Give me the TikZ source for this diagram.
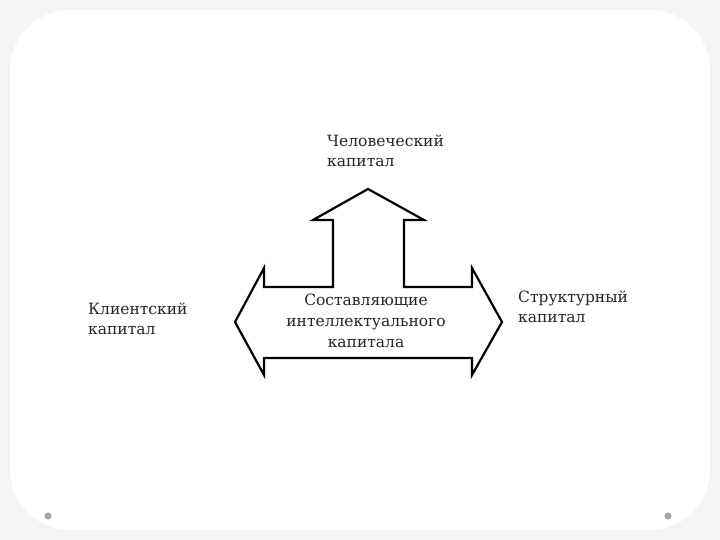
\documentclass[tikz,border=0pt]{standalone}
\usepackage{fontspec}
\setmainfont{DejaVu Serif}
\begin{document}
\begin{tikzpicture}[x=1pt,y=-1pt,
  lbl/.style={align=left,font=\fontsize{15.5}{20}\selectfont,inner sep=0pt,anchor=north west,text=black!85},
  dotm/.style={fill=gray!70,draw=none}]
\useasboundingbox (0,0) rectangle (720,540);
\fill[gray!9] (0,0) rectangle (720,540);
\fill[white, rounded corners=60] (10,10) rectangle (710,530);
\fill[dotm] (48,516) circle (3.5);
\fill[dotm] (668,516) circle (3.5);
\draw[line width=2.2pt,line join=miter, fill=white]
 (264,287) -- (333,287) -- (333,220) -- (313,220) -- (368,189) -- (424,220) -- (404,220) -- (404,287)
 -- (472,287) -- (472,268) -- (502,322) -- (472,375) -- (472,358) -- (264,358) -- (264,375)
 -- (235,322) -- (264,268) -- cycle;
\node[align=center,font=\fontsize{15.5}{21}\selectfont,inner sep=0pt,text=black!85] (c) at (366,321) {Составляющие\\интеллектуального\\капитала};
\node[lbl] (h) at (327,135) {Человеческий\\капитал};
\node[lbl] (k) at (88,303) {Клиентский\\капитал};
\node[lbl] (s) at (518,291) {Структурный\\капитал};
\end{tikzpicture}
\end{document}
